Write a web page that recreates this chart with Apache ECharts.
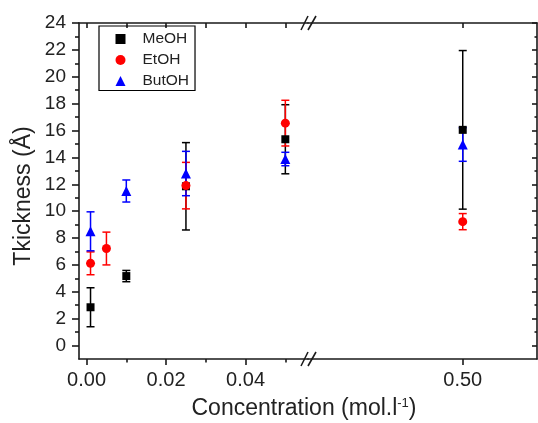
<!DOCTYPE html>
<html><head><meta charset="utf-8">
<script src="https://cdn.jsdelivr.net/npm/echarts@6/dist/echarts.min.js"></script>
<style>html,body{margin:0;padding:0;background:#fff}#c{width:538px;height:423px}</style>
</head><body><div id="c"></div>
<script>
const seriesNames = ['MeOH', 'EtOH', 'ButOH'];
const seriesColors = ['#000000', '#ff0000', '#0000ff'];
const seriesSymbols = ['rect', 'circle', 'triangle'];
const seriesSizes = [8, 9, 10];

const meohX = [0.001, 0.01, 0.025, 0.05, 0.50];
const meohY = [2.85, 5.17, 11.85, 15.35, 16.05];
const meohErr = [1.45, 0.42, 3.25, 2.57, 5.9];

const etohX = [0.001, 0.005, 0.025, 0.05, 0.50];
const etohY = [6.12, 7.22, 11.9, 16.55, 9.22];
const etohErr = [0.85, 1.22, 1.73, 1.7, 0.6];

const butohX = [0.001, 0.01, 0.025, 0.05, 0.50];
const butohY = [8.5, 11.5, 12.8, 13.88, 14.96];
const butohErr = [1.45, 0.82, 1.65, 0.5, 1.25];

const xTickLabelsLeft = [0, 0.02, 0.04];
const xMinorTicksLeft = [0.01, 0.03, 0.05];
const xTopTicksLeft = [0, 0.01, 0.02, 0.03, 0.04, 0.05];
const xTickLabelsRight = [0.50];
const yTickLabels = [0, 2, 4, 6, 8, 10, 12, 14, 16, 18, 20, 22, 24];
const yMinorTicks = [1, 3, 5, 7, 9, 11, 13, 15, 17, 19, 21, 23];

const X_LEFT_MIN = -0.0019, X_LEFT_MAX = 0.0557;
const X_RIGHT_MIN = 0.40, X_RIGHT_MAX = 0.548;
const Y_MIN = -1, Y_MAX = 24;
const BREAK_AT = 0.1;

const FONT = "'Liberation Sans', Arial, sans-serif";
const AX = '#1a1a1a';

const groups = [
  [meohX, meohY, meohErr],
  [etohX, etohY, etohErr],
  [butohX, butohY, butohErr]
];

const grids = [
  {left: 79, top: 23, width: 229, height: 336},
  {left: 308, top: 23, width: 229, height: 336},
  {left: 79, top: 23, width: 229, height: 336},
  {left: 308, top: 23, width: 229, height: 336}
];

const lineStyle = {color: AX, width: 1.6};

const xAxes = [
  {gridIndex: 0, type: 'value', position: 'bottom', min: X_LEFT_MIN, max: X_LEFT_MAX,
   axisLine: {show: true, onZero: false, lineStyle},
   axisTick: {show: true, customValues: xTickLabelsLeft, length: 6, lineStyle},
   axisLabel: {customValues: xTickLabelsLeft, formatter: v => v.toFixed(2), fontFamily: FONT, fontSize: 20, color: '#222', margin: 11},
   splitLine: {show: false}},
  {gridIndex: 0, type: 'value', position: 'top', min: X_LEFT_MIN, max: X_LEFT_MAX,
   axisLine: {show: true, onZero: false, lineStyle},
   axisTick: {show: true, inside: true, customValues: xTopTicksLeft, length: 5, lineStyle},
   axisLabel: {show: false}, splitLine: {show: false}},
  {gridIndex: 1, type: 'value', position: 'bottom', min: X_RIGHT_MIN, max: X_RIGHT_MAX,
   axisLine: {show: true, onZero: false, lineStyle},
   axisTick: {show: true, customValues: xTickLabelsRight, length: 6, lineStyle},
   axisLabel: {customValues: xTickLabelsRight, formatter: v => v.toFixed(2), fontFamily: FONT, fontSize: 20, color: '#222', margin: 11},
   splitLine: {show: false}},
  {gridIndex: 1, type: 'value', position: 'top', min: X_RIGHT_MIN, max: X_RIGHT_MAX,
   axisLine: {show: true, onZero: false, lineStyle},
   axisTick: {show: true, inside: true, customValues: xTickLabelsRight, length: 5, lineStyle},
   axisLabel: {show: false}, splitLine: {show: false}},
  {gridIndex: 2, type: 'value', position: 'bottom', min: X_LEFT_MIN, max: X_LEFT_MAX,
   axisLine: {show: false, onZero: false},
   axisTick: {show: true, customValues: xMinorTicksLeft, length: 3.5, lineStyle},
   axisLabel: {show: false}, splitLine: {show: false}},
  {gridIndex: 3, type: 'value', show: false, min: X_RIGHT_MIN, max: X_RIGHT_MAX,
   axisLine: {show: false, onZero: false}}
];

const yAxes = [
  {gridIndex: 0, type: 'value', position: 'left', min: Y_MIN, max: Y_MAX,
   axisLine: {show: true, onZero: false, lineStyle},
   axisTick: {show: true, customValues: yTickLabels, length: 7, lineStyle},
   axisLabel: {customValues: yTickLabels, fontFamily: FONT, fontSize: 19, color: '#222', margin: 13},
   splitLine: {show: false}},
  {gridIndex: 1, type: 'value', position: 'right', min: Y_MIN, max: Y_MAX,
   axisLine: {show: true, onZero: false, lineStyle},
   axisTick: {show: true, inside: true, customValues: yTickLabels, length: 5, lineStyle},
   axisLabel: {show: false}, splitLine: {show: false}},
  {gridIndex: 2, type: 'value', position: 'left', min: Y_MIN, max: Y_MAX,
   axisLine: {show: false, onZero: false},
   axisTick: {show: true, customValues: yMinorTicks, length: 4, lineStyle},
   axisLabel: {show: false}, splitLine: {show: false}},
  {gridIndex: 3, type: 'value', position: 'right', min: Y_MIN, max: Y_MAX,
   axisLine: {show: false, onZero: false},
   axisTick: {show: true, inside: true, customValues: yMinorTicks, length: 2.5, lineStyle},
   axisLabel: {show: false}, splitLine: {show: false}}
];

function errRender(color) {
  return function (params, api) {
    const x = api.value(0), y = api.value(1), e = api.value(2);
    const top = api.coord([x, y + e]), bot = api.coord([x, y - e]);
    const w = 4;
    const style = {stroke: color, lineWidth: 1.5};
    return {type: 'group', children: [
      {type: 'line', shape: {x1: top[0], y1: top[1], x2: bot[0], y2: bot[1]}, style},
      {type: 'line', shape: {x1: top[0] - w, y1: top[1], x2: top[0] + w, y2: top[1]}, style},
      {type: 'line', shape: {x1: bot[0] - w, y1: bot[1], x2: bot[0] + w, y2: bot[1]}, style}
    ]};
  };
}

const series = [];
const sides = [{xi: 0, yi: 0, test: v => v < BREAK_AT}, {xi: 2, yi: 1, test: v => v >= BREAK_AT}];
groups.forEach((g, gi) => {
  sides.forEach(s => {
    const pts = [];
    g[0].forEach((x, i) => { if (s.test(x)) pts.push([x, g[1][i], g[2][i]]); });
    series.push({
      type: 'custom', name: seriesNames[gi], xAxisIndex: s.xi, yAxisIndex: s.yi,
      renderItem: errRender(seriesColors[gi]), data: pts, encode: {x: 0, y: 1},
      z: 2, silent: true, clip: false
    });
  });
});
groups.forEach((g, gi) => {
  sides.forEach(s => {
    const pts = [];
    g[0].forEach((x, i) => { if (s.test(x)) pts.push([x, g[1][i]]); });
    series.push({
      type: 'scatter', name: seriesNames[gi], xAxisIndex: s.xi, yAxisIndex: s.yi,
      symbol: seriesSymbols[gi], symbolSize: seriesSizes[gi],
      itemStyle: {color: seriesColors[gi], opacity: 1}, data: pts, z: 3 + gi
    });
  });
});

const chart = echarts.init(document.getElementById('c'), null, {renderer: 'canvas'});
chart.setOption({
  animation: false,
  backgroundColor: '#fff',
  grid: grids,
  xAxis: xAxes,
  yAxis: yAxes,
  legend: {
    orient: 'vertical', left: 99, top: 26,
    data: seriesNames.map((n, i) => ({name: n, icon: seriesSymbols[i], itemStyle: {color: seriesColors[i]}})),
    itemWidth: 10, itemHeight: 10, itemGap: 5,
    padding: [5, 6, 1.5, 16.5],
    borderColor: '#000', borderWidth: 1.2, borderRadius: 0,
    textStyle: {fontFamily: FONT, fontSize: 15.5, color: '#222', padding: [0, 0, 0, 12], lineHeight: 13},
    selectedMode: false
  },
  series
});

const tl = chart.convertToPixel({gridIndex: 0}, [X_LEFT_MAX, Y_MAX]);
const bl = chart.convertToPixel({gridIndex: 0}, [X_LEFT_MAX, Y_MIN]);
function breakMarks(cx, cy) {
  return [
    {type: 'line', shape: {x1: cx - 7.5, y1: cy + 7, x2: cx - 0.5, y2: cy - 7}, style: {stroke: AX, lineWidth: 1.6}},
    {type: 'line', shape: {x1: cx - 0.5, y1: cy + 7, x2: cx + 7.5, y2: cy - 7}, style: {stroke: AX, lineWidth: 1.6}}
  ];
}
const leftPx = chart.convertToPixel({gridIndex: 0}, [X_LEFT_MIN, Y_MIN]);
const rightPx = chart.convertToPixel({gridIndex: 1}, [X_RIGHT_MAX, Y_MIN]);
chart.setOption({
  graphic: [
    {type: 'text', rotation: Math.PI / 2, x: 24, y: 196,
     style: {text: 'Tkickness (Å)', fontFamily: FONT, fontSize: 23, fill: '#222', align: 'center', verticalAlign: 'middle'}},
    {type: 'text', x: (leftPx[0] + rightPx[0]) / 2 - 4, y: 409,
     style: {text: 'Concentration (mol.l{sup|-1})', fontFamily: FONT, fontSize: 23, fill: '#222', align: 'center', verticalAlign: 'middle',
       rich: {sup: {fontFamily: FONT, fontSize: 13, fill: '#222', padding: [0, 0, 11, 0]}}}},
    ...breakMarks(tl[0] + 0.5, tl[1]),
    ...breakMarks(bl[0] + 0.5, bl[1])
  ]
});
</script></body></html>
